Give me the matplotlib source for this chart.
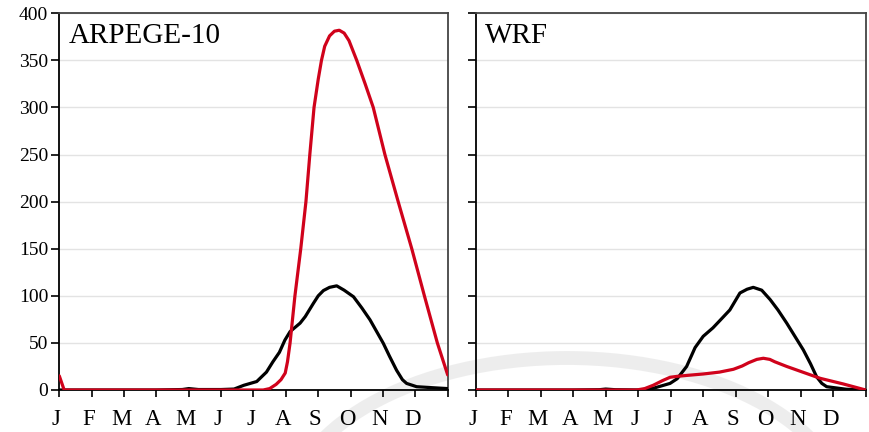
import matplotlib
matplotlib.use("Agg")
import matplotlib.pyplot as plt
import matplotlib.transforms as mtransforms
from matplotlib.patches import Arc

plt.rcParams['font.family'] = ['Liberation Serif', 'DejaVu Serif']

months = ["J", "F", "M", "A", "M", "J", "J", "A", "S", "O", "N", "D"]
panel_names = ["ARPEGE-10", "WRF"]

# left panel (ARPEGE-10), x in months since 1 Jan
arp_obs_x = [0, 1, 2, 3, 3.8, 4.0, 4.3, 5.0, 5.4, 5.7, 6.0, 6.1, 6.25, 6.4, 6.6, 6.8, 6.97,
             7.13, 7.44, 7.6, 7.85, 8.0, 8.16, 8.35, 8.57, 8.8, 9.09, 9.35, 9.6, 10.01,
             10.2, 10.42, 10.6, 10.73, 11.04, 11.5, 12]
arp_obs_y = [0, 0, 0, 0, 0.5, 1.5, 0.5, 0.5, 1, 5, 8, 9, 14, 19, 30, 40, 53,
             62, 71, 78, 92, 100, 105.6, 109, 110.6, 106, 99, 87, 74.5, 49.6,
             36, 21, 11, 7, 3.5, 2.5, 1.5]
arp_mod_x = [0, 0.15, 1, 2, 3, 4, 5, 6.3, 6.5, 6.7, 6.85, 6.98, 7.05, 7.13, 7.28, 7.46,
             7.62, 7.74, 7.87, 8.0, 8.1, 8.2, 8.35, 8.5, 8.65, 8.8, 8.95, 9.19, 9.45,
             9.7, 10.06, 10.47, 10.89, 11.28, 11.68, 12]
arp_mod_y = [15, 0, 0, 0, 0, 0, 0, 0, 1.5, 6, 11, 18, 30, 50, 100, 150,
             200, 250, 300, 330, 350, 365, 376, 381, 382, 379, 371, 350, 325,
             300, 250, 200, 150, 100, 50, 16]

# right panel (WRF)
wrf_obs_x = [0, 1, 2, 3, 3.8, 4.0, 4.3, 5.06, 5.46, 5.98, 6.2, 6.49, 6.75, 7.0, 7.3, 7.52,
             7.82, 8.13, 8.35, 8.54, 8.8, 9.06, 9.3, 9.57, 10.08, 10.3, 10.49, 10.65, 10.8,
             11.4, 12]
wrf_obs_y = [0, 0, 0, 0, 0.3, 1, 0.3, 0, 1.8, 7, 12, 25, 45, 57, 66, 74,
             85, 103, 107, 109, 106, 96, 85, 71, 42.6, 28, 14, 7, 3.5,
             0.8, 0]
wrf_mod_x = [0, 1, 2, 3, 4, 4.95, 5.2, 5.46, 5.75, 5.98, 6.2, 6.5, 7.0, 7.5, 7.93, 8.2,
             8.4, 8.65, 8.85, 9.05, 9.2, 9.57, 10.1, 10.6, 11.3, 12]
wrf_mod_y = [0, 0, 0, 0, 0, 0, 1.5, 5, 10, 13.5, 14.5, 15.5, 17, 19, 22, 25.5,
             29, 32.5, 33.7, 32.5, 30, 25, 18.5, 12.4, 6.5, 0]

red = "#d0021b"

fig = plt.figure(figsize=(8.69, 4.32), dpi=100)

# faint watermark arc behind the panels
fig.add_artist(Arc((567 / 869, 1 - 518 / 432), 560 / 869, 320 / 432, theta1=0, theta2=180,
                   transform=fig.transFigure, color="#d4d4d4", lw=10, alpha=0.4, zorder=0))

ax1 = fig.add_axes([59.3 / 869, 42 / 432, 388.4 / 869, 376.7 / 432])
ax2 = fig.add_axes([475.7 / 869, 42 / 432, 390 / 869, 376.7 / 432])

series = [(arp_obs_x, arp_obs_y, arp_mod_x, arp_mod_y),
          (wrf_obs_x, wrf_obs_y, wrf_mod_x, wrf_mod_y)]

shift = mtransforms.ScaledTranslation(-3 / 100, 0, fig.dpi_scale_trans)

for ax, name, (ox, oy, mx, my) in zip([ax1, ax2], panel_names, series):
    ax.set_facecolor("none")
    ax.plot(ox, oy, color="black", lw=2.3, solid_capstyle="round", solid_joinstyle="round", zorder=3)
    ax.plot(mx, my, color=red, lw=2.3, solid_capstyle="round", solid_joinstyle="round", zorder=4)
    ax.set_xlim(0, 12)
    ax.set_ylim(0, 400)
    ax.set_yticks(range(0, 401, 50))
    ax.yaxis.grid(True, color="#e3e3e3", lw=1)
    ax.set_axisbelow(True)
    ax.set_xticks(range(13))
    ax.set_xticklabels(months + [""])
    ax.tick_params(axis="x", direction="out", length=5, width=1.2, labelsize=16.5, pad=9)
    ax.tick_params(axis="y", direction="out", length=6, width=1.2, labelsize=14, pad=2)
    for lbl in ax.get_xticklabels():
        lbl.set_transform(lbl.get_transform() + shift)
    for s in ["left", "bottom"]:
        ax.spines[s].set_color("black")
        ax.spines[s].set_linewidth(1.3)
    for s in ["top", "right"]:
        ax.spines[s].set_color("#444444")
        ax.spines[s].set_linewidth(1.3)
    ax.text(0.025, 0.975, name, transform=ax.transAxes, fontsize=21, va="top", ha="left")

ax2.set_yticklabels([])

fig.savefig("out.png", dpi=100)
